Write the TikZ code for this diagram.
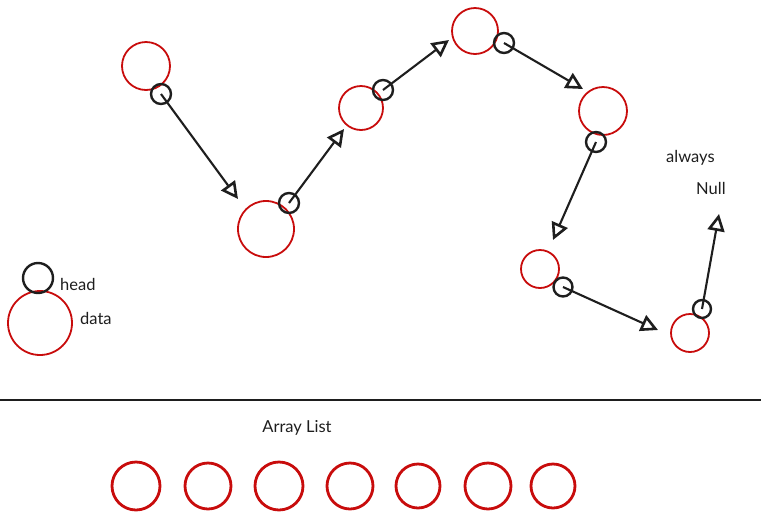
\documentclass[tikz,border=0pt]{standalone}
\usepackage{fontspec}
\setmainfont{Lato}
\usepackage{tikz}
\usetikzlibrary{arrows.meta,positioning}
\usepackage{xcolor}
\definecolor{inkred}{RGB}{200,12,12}
\definecolor{ink}{RGB}{30,30,30}

\tikzset{
  datanode/.style={circle,draw=inkred,line width=1.8pt,inner sep=0pt,minimum size=#1},
  headnode/.style={circle,draw=ink,line width=2.4pt,inner sep=0pt,minimum size=#1},
  slotnode/.style={circle,draw=inkred,line width=2.8pt,inner sep=0pt,minimum size=#1},
  ptr/.style={draw=ink,line width=2.1pt,-{Triangle[open,length=17pt,width=17pt,line width=2.6pt]}},
  lbl/.style={text=ink,font=\fontsize{16.5}{19}\selectfont,inner sep=0pt}
}

\begin{document}
\begin{tikzpicture}[x=1pt,y=-1pt]
  \useasboundingbox (0,0) rectangle (761,523);
  % linked list
  \node[datanode=48pt] (d1) at (146,66) {};
  \node[headnode=20pt] (h1) at (161,94) {};
  \node[datanode=56pt] (d2) at (266,229) {};
  \node[headnode=20pt] (h2) at (289,203) {};
  \node[datanode=44pt] (d3) at (361,108) {};
  \node[headnode=20pt] (h3) at (383,90) {};
  \node[datanode=46pt] (d4) at (475,31) {};
  \node[headnode=20pt] (h4) at (504,43) {};
  \node[datanode=48pt] (d5) at (603,111) {};
  \node[headnode=20pt] (h5) at (596,142) {};
  \node[datanode=38pt] (d6) at (540,269) {};
  \node[headnode=19pt] (h6) at (563,287) {};
  \node[datanode=38pt] (d7) at (690,333) {};
  \node[headnode=18pt] (h7) at (702,309) {};
  \coordinate (t1) at (238,199);
  \coordinate (t2) at (344,129);
  \coordinate (t3) at (449,40);
  \coordinate (t4) at (583,89);
  \coordinate (t5) at (553,240);
  \coordinate (t6) at (658,330);
  \coordinate (t7) at (719,214);
  \foreach \i in {1,...,7}{\draw[ptr] (h\i.center) -- (t\i);}
  \node[lbl,anchor=west] (nul1) at (666,158) {always};
  \node[lbl,anchor=west] (nul2) at (696,188) {Null};
  % legend
  \node[datanode=64pt] (kd) at (40,323) {};
  \node[headnode=30pt] (kh) at (38,278) {};
  \node[lbl,anchor=west] (khl) at (60,284) {head};
  \node[lbl,anchor=west] (kdl) at (80,318) {data};
  % divider
  \draw[ink,line width=2.8pt] (0,400) -- (761,400);
  % array list
  \node[lbl] (arr) at (297,428) {Array List};
  \foreach \x/\r [count=\k] in {136/48,208/46,279/48,350/46,418/44,488/46,553/44}{
    \node[slotnode=\r pt] (s\k) at (\x,486) {};}
\end{tikzpicture}
\end{document}
